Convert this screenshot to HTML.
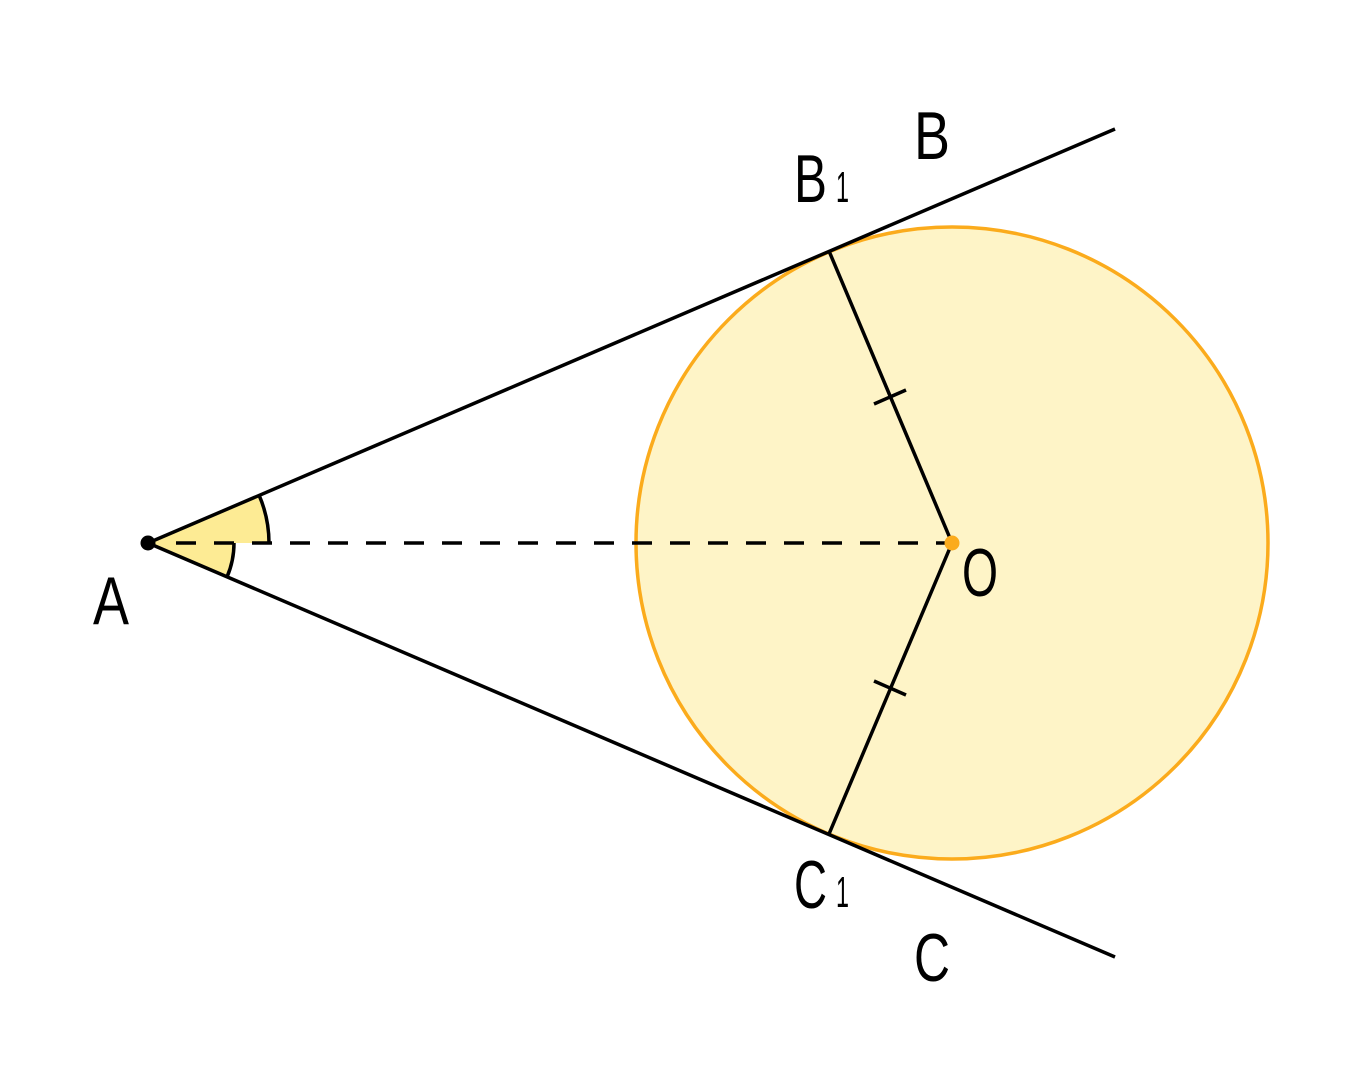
<!DOCTYPE html>
<html><head><meta charset="utf-8"><style>html,body{margin:0;padding:0;background:#fff}svg{display:block}text{font-family:"Liberation Sans",sans-serif;fill:#000}</style></head>
<body>
<svg width="1364" height="1088" viewBox="0 0 1364 1088" xmlns="http://www.w3.org/2000/svg">
<circle cx="952" cy="543" r="316" fill="#fef4c7" stroke="#fbab1c" stroke-width="3.5"/>
<path d="M148,543 L259,495 A121,121 0 0 1 269,543 Z" fill="#fdeb94"/>
<path d="M148,543 L234,543 A86,86 0 0 1 227,577 Z" fill="#fdeb94"/>
<path d="M259,495 A121,121 0 0 1 269,543" fill="none" stroke="#000" stroke-width="3.5"/>
<path d="M234,543 A86,86 0 0 1 227,577" fill="none" stroke="#000" stroke-width="3.5"/>
<line x1="148" y1="543" x2="1115" y2="129" stroke="#000" stroke-width="3.5"/>
<line x1="148" y1="543" x2="1115" y2="957" stroke="#000" stroke-width="3.5"/>
<line x1="176" y1="543" x2="945" y2="543" stroke="#000" stroke-width="3.5" stroke-dasharray="20,18"/>
<line x1="829" y1="251" x2="952" y2="543" stroke="#000" stroke-width="3.5"/>
<line x1="829" y1="834" x2="952" y2="543" stroke="#000" stroke-width="3.5"/>
<line x1="874" y1="404" x2="906" y2="390" stroke="#000" stroke-width="3.5"/>
<line x1="874" y1="681" x2="906" y2="695" stroke="#000" stroke-width="3.5"/>
<circle cx="148" cy="543" r="7.5" fill="#000"/>
<circle cx="952" cy="543" r="7.5" fill="#fbab1c"/>
<text x="93" y="624" font-size="68" textLength="36" lengthAdjust="spacingAndGlyphs">A</text>
<text x="914" y="159" font-size="68" textLength="36" lengthAdjust="spacingAndGlyphs">B</text>
<text x="794" y="202" font-size="68" textLength="33" lengthAdjust="spacingAndGlyphs">B</text>
<text x="836" y="202" font-size="44" textLength="13" lengthAdjust="spacingAndGlyphs">1</text>
<text x="962" y="596" font-size="68" textLength="36" lengthAdjust="spacingAndGlyphs">O</text>
<text x="794" y="908" font-size="68" textLength="33" lengthAdjust="spacingAndGlyphs">C</text>
<text x="836" y="907" font-size="44" textLength="13" lengthAdjust="spacingAndGlyphs">1</text>
<text x="914" y="981" font-size="68" textLength="36" lengthAdjust="spacingAndGlyphs">C</text>
</svg>
</body></html>
